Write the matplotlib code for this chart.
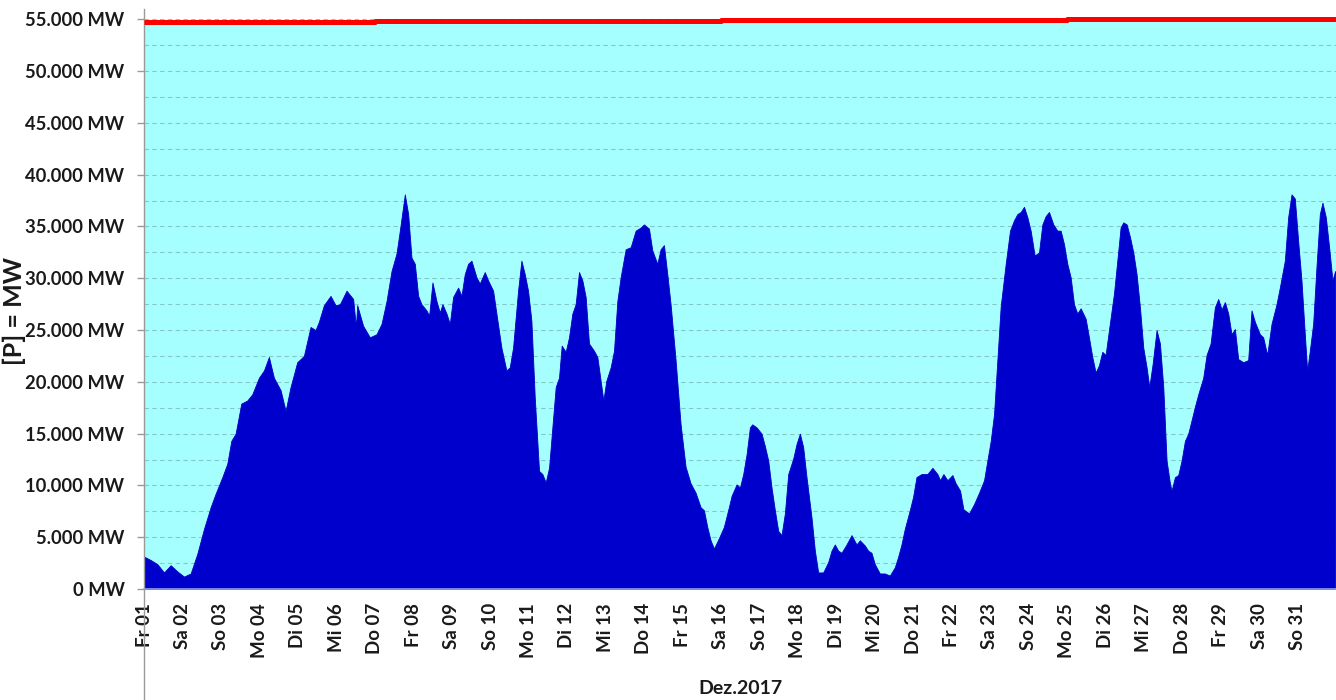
import matplotlib
matplotlib.use("Agg")
import matplotlib.pyplot as plt
from matplotlib.ticker import MultipleLocator, FuncFormatter
from matplotlib.lines import Line2D

# ---- data ----
# time in days since 01.12.2017 00:00, wind power in MW
days = [
    0.000, 0.173, 0.347, 0.520, 0.693, 0.866, 1.040, 1.213, 1.386, 1.559, 1.733, 1.862,
    2.036, 2.166, 2.270, 2.382, 2.530, 2.685, 2.815, 2.989, 3.119, 3.248, 3.378, 3.552,
    3.682, 3.811, 3.985, 4.158, 4.331, 4.461, 4.548, 4.678, 4.851, 4.981,
    5.094, 5.267, 5.440, 5.510, 5.545, 5.700, 5.874, 6.047, 6.177, 6.307, 6.437, 6.567,
    6.653, 6.783, 6.870, 6.956, 7.043, 7.130, 7.216, 7.346, 7.415, 7.502, 7.606, 7.693,
    7.762, 7.866, 7.953, 8.039, 8.169, 8.256, 8.342, 8.429, 8.516, 8.646, 8.732, 8.862,
    8.949, 9.079, 9.165, 9.295, 9.425, 9.512, 9.598, 9.728, 9.815, 9.902, 9.988, 10.075,
    10.162,
    10.274, 10.360, 10.447, 10.534, 10.620, 10.707, 10.793, 10.863, 10.967, 11.053, 11.140,
    11.226, 11.313, 11.400, 11.486, 11.573, 11.703, 11.790, 11.876, 11.946, 12.023, 12.136,
    12.223, 12.310, 12.396, 12.526, 12.656, 12.786, 12.916, 13.002, 13.132, 13.219, 13.349,
    13.435, 13.522, 13.609, 13.695, 13.825, 13.955, 14.085, 14.215, 14.345, 14.475, 14.562,
    14.648, 14.735, 14.822, 14.951, 15.081, 15.211,
    15.281, 15.411, 15.498, 15.584, 15.671, 15.757, 15.818, 15.931, 16.061, 16.147, 16.234,
    16.320, 16.407, 16.494, 16.580, 16.667, 16.754, 16.884, 16.970, 17.057, 17.143, 17.230,
    17.360, 17.447, 17.533, 17.663, 17.793, 17.880, 17.966, 18.053, 18.140, 18.270, 18.400,
    18.529, 18.616, 18.746, 18.833, 18.919, 19.006, 19.136, 19.266, 19.396, 19.526, 19.612,
    19.699, 19.785, 19.915, 20.002, 20.089, 20.219, 20.349,
    20.374, 20.504, 20.634, 20.703, 20.790, 20.894, 21.024, 21.110, 21.223, 21.310, 21.457,
    21.587, 21.717, 21.847, 21.933, 22.020, 22.107, 22.193, 22.280, 22.410, 22.522, 22.626,
    22.713, 22.800, 22.886, 22.973, 23.059, 23.163, 23.276, 23.363, 23.449, 23.536, 23.648,
    23.752, 23.839, 23.926, 24.012, 24.099, 24.186, 24.272, 24.359, 24.489, 24.575, 24.662,
    24.749, 24.835, 24.922, 25.008, 25.095, 25.225, 25.312, 25.398,
    25.468, 25.555, 25.641, 25.728, 25.814, 25.901, 25.988, 26.074, 26.144, 26.230, 26.334,
    26.421, 26.508, 26.594, 26.681, 26.724, 26.811, 26.897, 26.984, 27.071, 27.157, 27.244,
    27.330, 27.417, 27.547, 27.634, 27.738, 27.850, 27.937, 28.024, 28.110, 28.197, 28.283,
    28.370, 28.457, 28.587, 28.716, 28.803, 28.890, 29.020, 29.106, 29.210, 29.323, 29.453,
    29.539, 29.669, 29.756, 29.843, 29.929, 30.016, 30.102, 30.189, 30.250, 30.319, 30.406,
    30.492, 30.579, 30.648, 30.735, 30.821, 30.908, 30.977,
]
wind_mw = [
    3130, 2800, 2400, 1600, 2300, 1700, 1200, 1500, 3400, 5800, 7900, 9200,
    10800, 12100, 14300, 15000, 17900, 18200, 18800, 20400, 21100, 22400, 20400, 19200,
    17200, 19500, 21900, 22500, 25300, 25000, 25800, 27400, 28300, 27400,
    27500, 28800, 28000, 25300, 27400, 25400, 24300, 24600, 25600, 27800, 30700, 32400,
    34600, 38100, 36200, 32000, 31400, 28300, 27500, 26900, 26400, 29600, 27800, 26700,
    27500, 26600, 25600, 28200, 29100, 28300, 30400, 31400, 31700, 30100, 29500, 30600,
    29800, 28800, 26600, 23300, 21100, 21400, 23300, 28800, 31700, 30400, 28800, 25900,
    18500,
    11400, 11100, 10300, 11700, 15600, 19500, 20400, 23500, 22900, 24300, 26600,
    27500, 30600, 29800, 28200, 23700, 23000, 22400, 20100, 18200, 20100, 21400,
    23000, 27800, 30100, 32800, 33000, 34600, 34900, 35200, 34800, 32700, 31400,
    32800, 33200, 30400, 27500, 22100, 15900, 11800, 10200, 9300, 7900, 7600,
    6000, 4700, 3900, 4900, 6000, 7900,
    9000, 10100, 9800, 11100, 13000, 15600, 15900, 15600, 15000, 13800, 12400,
    9800, 7600, 5600, 5200, 7300, 11100, 12600, 14000, 15000, 13700, 10800,
    6900, 3700, 1600, 1600, 2600, 3700, 4300, 3700, 3500, 4300, 5200,
    4300, 4700, 4200, 3700, 3500, 2400, 1500, 1500, 1300, 2100, 3100,
    4300, 5800, 7600, 8900, 10800, 11100, 11100,
    11100, 11700, 11100, 10500, 11100, 10500, 11000, 10200, 9500, 7700, 7300,
    8200, 9300, 10500, 12400, 14300, 16900, 22100, 27300, 31400, 34600, 35600,
    36200, 36400, 36900, 35900, 34600, 32200, 32500, 35200, 36000, 36400, 35200,
    34600, 34600, 33300, 31400, 30100, 27500, 26600, 27100, 26100, 24300, 22400,
    20900, 21600, 22900, 22600, 25000, 28500, 31700, 34900,
    35400, 35200, 34000, 32500, 30400, 27200, 23300, 21400, 19500, 21700, 25000,
    23700, 19500, 12400, 10200, 9500, 10800, 11000, 12400, 14300, 15000, 16300,
    17600, 18800, 20400, 22600, 23700, 27200, 28000, 27000, 27700, 26600, 24600,
    25100, 22200, 21900, 22100, 26900, 25800, 24600, 24300, 22600, 25600, 27500,
    29100, 31700, 35900, 38100, 37700, 33600, 29800, 24600, 21100, 23000, 25600,
    31100, 36200, 37300, 35900, 33000, 29800, 30700,
]

# installed capacity (red line): step values and the days they start
cap_days = [0, 6, 15, 24, 31]
cap_mw = [54760, 54840, 54920, 55080, 55080]

day_labels = [
    "Fr 01", "Sa 02", "So 03", "Mo 04", "Di 05", "Mi 06", "Do 07", "Fr 08", "Sa 09", "So 10",
    "Mo 11", "Di 12", "Mi 13", "Do 14", "Fr 15", "Sa 16", "So 17", "Mo 18", "Di 19", "Mi 20",
    "Do 21", "Fr 22", "Sa 23", "So 24", "Mo 25", "Di 26", "Mi 27", "Do 28", "Fr 29", "Sa 30",
    "So 31",
]
y_ticks = list(range(0, 55001, 5000))
x_label = "Dez.2017"
y_label = "[P] = MW"

# ---- figure ----
plt.rcParams['font.family'] = ['Lato', 'DejaVu Sans']
W, H = 1336, 700
fig = plt.figure(figsize=(W / 100, H / 100), dpi=100)
ax_left, ax_bottom = 144 / W, 1 - 589 / H
ax = fig.add_axes([ax_left, ax_bottom, 1 - ax_left, (589 - 9) / H])

ax.fill_between(cap_days, 0, cap_mw, step='post', color='#A6FFFF', linewidth=0, zorder=0.2)
ax.step(cap_days, cap_mw, where='post', color='#FF0000', linewidth=3.6, zorder=3,
        solid_capstyle='butt')
ax.fill_between(days, 0, wind_mw, color='#0000CC', linewidth=0.6, edgecolor='#0000CC', zorder=2)

ax.set_xlim(0, 31)
ax.set_ylim(0, 56000)

ax.set_yticks(y_ticks)
ax.yaxis.set_major_formatter(FuncFormatter(lambda v, p: f"{int(v):,}".replace(",", ".") + " MW"))
ax.yaxis.set_minor_locator(MultipleLocator(2500))
ax.set_axisbelow(True)
ax.grid(axis='y', which='both', color='#86C8C8', linestyle=(0, (4, 3)), linewidth=0.8)
ax.tick_params(axis='y', which='major', length=5, width=1, color='#999999', pad=9,
               labelsize=13.2, labelcolor='#1a1a1a')
ax.tick_params(axis='y', which='minor', length=0)
for lab in ax.get_yticklabels():
    lab.set_fontweight('bold')

ax.set_xticks(list(range(len(day_labels))))
ax.set_xticklabels(day_labels, rotation=90, fontweight='bold', fontsize=13.5, color='#1a1a1a',
                   va='top', ha='center')
ax.tick_params(axis='x', length=0, pad=10)

for s in ['top', 'right']:
    ax.spines[s].set_visible(False)
ax.spines['left'].set_color('#999999')
ax.spines['left'].set_linewidth(1)
ax.spines['bottom'].set_color('#8FA3E6')
ax.spines['bottom'].set_linewidth(1.2)
ax.spines['bottom'].set_zorder(4)

# left axis line continues below the plot area
fig.add_artist(Line2D([ax_left, ax_left], [0, ax_bottom], color='#999999', linewidth=1))

ax.set_ylabel(y_label, fontsize=18, fontweight='bold', color='#1a1a1a')
ax.yaxis.set_label_coords(-0.099, 0.48)

fig.text(740 / W, 1 - 688 / H, x_label, ha='center', va='center', fontsize=14,
         fontweight='bold', color='#1a1a1a')

fig.savefig("out.png", dpi=100)
